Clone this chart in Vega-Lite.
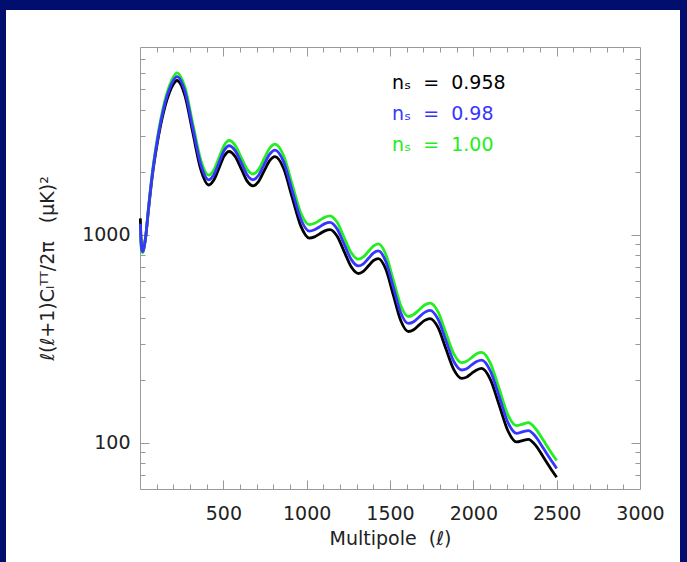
{
  "$schema": "https://vega.github.io/schema/vega-lite/v6.json",
  "width": 674,
  "height": 552,
  "autosize": {"type": "none"},
  "padding": {"left": 6, "top": 10, "right": 7, "bottom": 0},
  "background": "#020e6e",
  "config": {
    "view": {"fill": "white", "stroke": null},
    "font": "DejaVu Sans",
    "axis": {"grid": false, "labelFont": "DejaVu Sans", "titleFont": "DejaVu Sans"}
  },
  "data": {"values": [
    {"ell":2,"cl":1200,"ns":"0.958"},{"ell":4,"cl":1060,"ns":"0.958"},{"ell":7,"cl":930,"ns":"0.958"},{"ell":12,"cl":855,"ns":"0.958"},{"ell":18,"cl":840,"ns":"0.958"},{"ell":25,"cl":880,"ns":"0.958"},{"ell":35,"cl":990,"ns":"0.958"},{"ell":50,"cl":1300,"ns":"0.958"},{"ell":75,"cl":1950,"ns":"0.958"},{"ell":100,"cl":2650,"ns":"0.958"},{"ell":125,"cl":3400,"ns":"0.958"},{"ell":150,"cl":4150,"ns":"0.958"},{"ell":175,"cl":4800,"ns":"0.958"},{"ell":200,"cl":5300,"ns":"0.958"},{"ell":222,"cl":5520,"ns":"0.958"},{"ell":270,"cl":4660,"ns":"0.958"},{"ell":317,"cl":3095,"ns":"0.958"},{"ell":365,"cl":2057,"ns":"0.958"},{"ell":412,"cl":1736,"ns":"0.958"},{"ell":443,"cl":1833,"ns":"0.958"},{"ell":474,"cl":2090,"ns":"0.958"},{"ell":504,"cl":2383,"ns":"0.958"},{"ell":535,"cl":2516,"ns":"0.958"},{"ell":571,"cl":2379,"ns":"0.958"},{"ell":607,"cl":2081,"ns":"0.958"},{"ell":642,"cl":1818,"ns":"0.958"},{"ell":678,"cl":1720,"ns":"0.958"},{"ell":711,"cl":1803,"ns":"0.958"},{"ell":744,"cl":2023,"ns":"0.958"},{"ell":777,"cl":2267,"ns":"0.958"},{"ell":810,"cl":2378,"ns":"0.958"},{"ell":862,"cl":2084,"ns":"0.958"},{"ell":913,"cl":1515,"ns":"0.958"},{"ell":965,"cl":1101,"ns":"0.958"},{"ell":1016,"cl":965,"ns":"0.958"},{"ell":1047,"cl":978,"ns":"0.958"},{"ell":1078,"cl":1011,"ns":"0.958"},{"ell":1109,"cl":1045,"ns":"0.958"},{"ell":1140,"cl":1060,"ns":"0.958"},{"ell":1182,"cl":987,"ns":"0.958"},{"ell":1225,"cl":831,"ns":"0.958"},{"ell":1268,"cl":700,"ns":"0.958"},{"ell":1310,"cl":652,"ns":"0.958"},{"ell":1340,"cl":668,"ns":"0.958"},{"ell":1370,"cl":708,"ns":"0.958"},{"ell":1400,"cl":751,"ns":"0.958"},{"ell":1430,"cl":769,"ns":"0.958"},{"ell":1475,"cl":683,"ns":"0.958"},{"ell":1520,"cl":513,"ns":"0.958"},{"ell":1565,"cl":386,"ns":"0.958"},{"ell":1610,"cl":343,"ns":"0.958"},{"ell":1642,"cl":350,"ns":"0.958"},{"ell":1675,"cl":369,"ns":"0.958"},{"ell":1708,"cl":388,"ns":"0.958"},{"ell":1740,"cl":396,"ns":"0.958"},{"ell":1788,"cl":359,"ns":"0.958"},{"ell":1835,"cl":284,"ns":"0.958"},{"ell":1883,"cl":225,"ns":"0.958"},{"ell":1930,"cl":204,"ns":"0.958"},{"ell":1960,"cl":207,"ns":"0.958"},{"ell":1990,"cl":216,"ns":"0.958"},{"ell":2020,"cl":224,"ns":"0.958"},{"ell":2050,"cl":228,"ns":"0.958"},{"ell":2102,"cl":202,"ns":"0.958"},{"ell":2155,"cl":152,"ns":"0.958"},{"ell":2208,"cl":114,"ns":"0.958"},{"ell":2260,"cl":101,"ns":"0.958"},{"ell":2295,"cl":102.5,"ns":"0.958"},{"ell":2330,"cl":104,"ns":"0.958"},{"ell":2375,"cl":97,"ns":"0.958"},{"ell":2420,"cl":85.5,"ns":"0.958"},{"ell":2460,"cl":76.2,"ns":"0.958"},{"ell":2500,"cl":68.3,"ns":"0.958"},
    {"ell":2,"cl":1131,"ns":"0.98"},{"ell":4,"cl":1014,"ns":"0.98"},{"ell":7,"cl":901,"ns":"0.98"},{"ell":12,"cl":838,"ns":"0.98"},{"ell":18,"cl":831,"ns":"0.98"},{"ell":25,"cl":877,"ns":"0.98"},{"ell":35,"cl":993,"ns":"0.98"},{"ell":50,"cl":1315,"ns":"0.98"},{"ell":75,"cl":1990,"ns":"0.98"},{"ell":100,"cl":2721,"ns":"0.98"},{"ell":125,"cl":3509,"ns":"0.98"},{"ell":150,"cl":4300,"ns":"0.98"},{"ell":175,"cl":4990,"ns":"0.98"},{"ell":200,"cl":5525,"ns":"0.98"},{"ell":222,"cl":5768,"ns":"0.98"},{"ell":270,"cl":4892,"ns":"0.98"},{"ell":317,"cl":3260,"ns":"0.98"},{"ell":365,"cl":2173,"ns":"0.98"},{"ell":412,"cl":1839,"ns":"0.98"},{"ell":443,"cl":1945,"ns":"0.98"},{"ell":474,"cl":2221,"ns":"0.98"},{"ell":504,"cl":2536,"ns":"0.98"},{"ell":535,"cl":2681,"ns":"0.98"},{"ell":571,"cl":2539,"ns":"0.98"},{"ell":607,"cl":2223,"ns":"0.98"},{"ell":642,"cl":1945,"ns":"0.98"},{"ell":678,"cl":1842,"ns":"0.98"},{"ell":711,"cl":1933,"ns":"0.98"},{"ell":744,"cl":2171,"ns":"0.98"},{"ell":777,"cl":2436,"ns":"0.98"},{"ell":810,"cl":2557,"ns":"0.98"},{"ell":862,"cl":2244,"ns":"0.98"},{"ell":913,"cl":1633,"ns":"0.98"},{"ell":965,"cl":1189,"ns":"0.98"},{"ell":1016,"cl":1043,"ns":"0.98"},{"ell":1047,"cl":1058,"ns":"0.98"},{"ell":1078,"cl":1094,"ns":"0.98"},{"ell":1109,"cl":1132,"ns":"0.98"},{"ell":1140,"cl":1148,"ns":"0.98"},{"ell":1182,"cl":1070,"ns":"0.98"},{"ell":1225,"cl":902,"ns":"0.98"},{"ell":1268,"cl":760,"ns":"0.98"},{"ell":1310,"cl":709,"ns":"0.98"},{"ell":1340,"cl":726,"ns":"0.98"},{"ell":1370,"cl":770,"ns":"0.98"},{"ell":1400,"cl":817,"ns":"0.98"},{"ell":1430,"cl":837,"ns":"0.98"},{"ell":1475,"cl":745,"ns":"0.98"},{"ell":1520,"cl":560,"ns":"0.98"},{"ell":1565,"cl":421,"ns":"0.98"},{"ell":1610,"cl":375,"ns":"0.98"},{"ell":1642,"cl":382,"ns":"0.98"},{"ell":1675,"cl":403,"ns":"0.98"},{"ell":1708,"cl":424,"ns":"0.98"},{"ell":1740,"cl":433,"ns":"0.98"},{"ell":1788,"cl":393,"ns":"0.98"},{"ell":1835,"cl":311,"ns":"0.98"},{"ell":1883,"cl":246,"ns":"0.98"},{"ell":1930,"cl":224,"ns":"0.98"},{"ell":1960,"cl":227,"ns":"0.98"},{"ell":1990,"cl":237,"ns":"0.98"},{"ell":2020,"cl":246,"ns":"0.98"},{"ell":2050,"cl":250,"ns":"0.98"},{"ell":2102,"cl":222,"ns":"0.98"},{"ell":2155,"cl":167,"ns":"0.98"},{"ell":2208,"cl":125,"ns":"0.98"},{"ell":2260,"cl":111,"ns":"0.98"},{"ell":2295,"cl":113,"ns":"0.98"},{"ell":2330,"cl":114.5,"ns":"0.98"},{"ell":2375,"cl":106.9,"ns":"0.98"},{"ell":2420,"cl":94.2,"ns":"0.98"},{"ell":2460,"cl":84.0,"ns":"0.98"},{"ell":2500,"cl":75.3,"ns":"0.98"},
    {"ell":2,"cl":1071,"ns":"1.00"},{"ell":4,"cl":974,"ns":"1.00"},{"ell":7,"cl":875,"ns":"1.00"},{"ell":12,"cl":823,"ns":"1.00"},{"ell":18,"cl":822,"ns":"1.00"},{"ell":25,"cl":873,"ns":"1.00"},{"ell":35,"cl":996,"ns":"1.00"},{"ell":50,"cl":1328,"ns":"1.00"},{"ell":75,"cl":2026,"ns":"1.00"},{"ell":100,"cl":2787,"ns":"1.00"},{"ell":125,"cl":3610,"ns":"1.00"},{"ell":150,"cl":4440,"ns":"1.00"},{"ell":175,"cl":5169,"ns":"1.00"},{"ell":200,"cl":5741,"ns":"1.00"},{"ell":222,"cl":6005,"ns":"1.00"},{"ell":270,"cl":5111,"ns":"1.00"},{"ell":317,"cl":3418,"ns":"1.00"},{"ell":365,"cl":2284,"ns":"1.00"},{"ell":412,"cl":1938,"ns":"1.00"},{"ell":443,"cl":2052,"ns":"1.00"},{"ell":474,"cl":2346,"ns":"1.00"},{"ell":504,"cl":2683,"ns":"1.00"},{"ell":535,"cl":2841,"ns":"1.00"},{"ell":571,"cl":2693,"ns":"1.00"},{"ell":607,"cl":2360,"ns":"1.00"},{"ell":642,"cl":2069,"ns":"1.00"},{"ell":678,"cl":1961,"ns":"1.00"},{"ell":711,"cl":2060,"ns":"1.00"},{"ell":744,"cl":2315,"ns":"1.00"},{"ell":777,"cl":2600,"ns":"1.00"},{"ell":810,"cl":2731,"ns":"1.00"},{"ell":862,"cl":2400,"ns":"1.00"},{"ell":913,"cl":1748,"ns":"1.00"},{"ell":965,"cl":1274,"ns":"1.00"},{"ell":1016,"cl":1119,"ns":"1.00"},{"ell":1047,"cl":1136,"ns":"1.00"},{"ell":1078,"cl":1175,"ns":"1.00"},{"ell":1109,"cl":1216,"ns":"1.00"},{"ell":1140,"cl":1235,"ns":"1.00"},{"ell":1182,"cl":1152,"ns":"1.00"},{"ell":1225,"cl":971,"ns":"1.00"},{"ell":1268,"cl":819,"ns":"1.00"},{"ell":1310,"cl":764,"ns":"1.00"},{"ell":1340,"cl":783,"ns":"1.00"},{"ell":1370,"cl":831,"ns":"1.00"},{"ell":1400,"cl":882,"ns":"1.00"},{"ell":1430,"cl":904,"ns":"1.00"},{"ell":1475,"cl":805,"ns":"1.00"},{"ell":1520,"cl":606,"ns":"1.00"},{"ell":1565,"cl":456,"ns":"1.00"},{"ell":1610,"cl":405,"ns":"1.00"},{"ell":1642,"cl":414,"ns":"1.00"},{"ell":1675,"cl":436,"ns":"1.00"},{"ell":1708,"cl":460,"ns":"1.00"},{"ell":1740,"cl":470,"ns":"1.00"},{"ell":1788,"cl":427,"ns":"1.00"},{"ell":1835,"cl":338,"ns":"1.00"},{"ell":1883,"cl":268,"ns":"1.00"},{"ell":1930,"cl":243,"ns":"1.00"},{"ell":1960,"cl":247,"ns":"1.00"},{"ell":1990,"cl":257,"ns":"1.00"},{"ell":2020,"cl":268,"ns":"1.00"},{"ell":2050,"cl":272,"ns":"1.00"},{"ell":2102,"cl":242,"ns":"1.00"},{"ell":2155,"cl":182,"ns":"1.00"},{"ell":2208,"cl":136,"ns":"1.00"},{"ell":2260,"cl":121,"ns":"1.00"},{"ell":2295,"cl":123,"ns":"1.00"},{"ell":2330,"cl":125,"ns":"1.00"},{"ell":2375,"cl":116.6,"ns":"1.00"},{"ell":2420,"cl":102.8,"ns":"1.00"},{"ell":2460,"cl":91.7,"ns":"1.00"},{"ell":2500,"cl":82.3,"ns":"1.00"}
  ]},
  "encoding": {
    "color": {
      "field": "ns", "type": "nominal",
      "scale": {"domain": ["0.958", "0.98", "1.00"], "range": ["#000000", "#3636ff", "#22ee22"]},
      "legend": {
        "orient": "none", "legendX": 367, "legendY": 63, "title": null,
        "symbolOpacity": 0, "symbolSize": 0, "symbolStrokeWidth": 0, "labelOffset": 0,
        "labelFontSize": 19, "labelFont": "DejaVu Sans", "labelExpr": "'nₛ\u00a0\u00a0=\u00a0\u00a0' + datum.label",
        "rowPadding": 11, "clipHeight": 19, "padding": 0,
        "encode": {"labels": {"update": {"fill": {"scale": "color", "field": "value"}}}}
      }
    }
  },
  "layer": [
    {
      "transform": [{"filter": "datum.ns === '0.958'"}],
      "mark": {"type": "line", "strokeWidth": 2.8, "interpolate": "monotone"},
      "encoding": {
        "x": {"field": "ell", "type": "quantitative",
          "scale": {"domain": [0, 3000], "range": [134, 634], "nice": false, "zero": false},
          "axis": {"orient": "bottom", "offset": -73, "values": [500, 1000, 1500, 2000, 2500, 3000], "format": "d",
            "ticks": false, "domain": true, "domainColor": "#999999", "domainWidth": 1,
            "labelFontSize": 19, "labelColor": "#222222", "labelPadding": 15, "labelOverlap": false, "labelFlush": false,
            "title": "Multipole\u00a0\u00a0(ℓ)", "titleFontSize": 19, "titleFontWeight": "normal", "titleColor": "#222222", "titlePadding": 6}},
        "y": {"field": "cl", "type": "quantitative",
          "scale": {"type": "log", "domain": [60, 8000], "range": [479, 37], "nice": false},
          "axis": {"orient": "left", "offset": -134, "values": [100, 1000], "format": "d",
            "ticks": false, "domain": true, "domainColor": "#999999", "domainWidth": 1,
            "labelFontSize": 19, "labelColor": "#222222", "labelPadding": 10, "labelOverlap": false, "labelFlush": false,
            "title": "ℓ(ℓ+1)Cₗᵀᵀ/2π\u00a0\u00a0\u00a0(μK)²", "titleFontSize": 19, "titleFontWeight": "normal", "titleColor": "#222222", "titlePadding": 24}}
      }
    },
    {
      "transform": [{"filter": "datum.ns === '1.00'"}],
      "mark": {"type": "line", "strokeWidth": 2.8, "interpolate": "monotone"},
      "encoding": {
        "x": {"field": "ell", "type": "quantitative",
          "scale": {"domain": [0, 3000], "range": [134, 634], "nice": false, "zero": false},
          "axis": {"orient": "top", "offset": -479,
            "values": [100,200,300,400,500,600,700,800,900,1000,1100,1200,1300,1400,1500,1600,1700,1800,1900,2000,2100,2200,2300,2400,2500,2600,2700,2800,2900],
            "labels": false, "domain": false, "ticks": true, "tickColor": "#999999", "tickWidth": 1,
            "tickSize": {"condition": {"test": "datum.value % 500 === 0", "value": 9}, "value": 5}, "title": null}},
        "y": {"field": "cl", "type": "quantitative",
          "scale": {"type": "log", "domain": [60, 8000], "range": [479, 37], "nice": false},
          "axis": {"orient": "right", "offset": -540,
            "values": [70,80,90,100,200,300,400,500,600,700,800,900,1000,2000,3000,4000,5000,6000,7000],
            "labels": false, "domain": false, "ticks": true, "tickColor": "#999999", "tickWidth": 1,
            "tickSize": {"condition": {"test": "datum.value === 100 || datum.value === 1000", "value": 9}, "value": 5}, "title": null}}
      }
    },
    {
      "transform": [{"filter": "datum.ns === '0.98'"}],
      "mark": {"type": "line", "strokeWidth": 2.8, "interpolate": "monotone"},
      "encoding": {
        "x": {"field": "ell", "type": "quantitative",
          "scale": {"domain": [0, 3000], "range": [134, 634], "nice": false, "zero": false},
          "axis": {"orient": "bottom", "offset": -515,
            "values": [100,200,300,400,500,600,700,800,900,1000,1100,1200,1300,1400,1500,1600,1700,1800,1900,2000,2100,2200,2300,2400,2500,2600,2700,2800,2900],
            "labels": false, "domain": true, "domainColor": "#999999", "domainWidth": 1, "ticks": true, "tickColor": "#999999", "tickWidth": 1,
            "tickSize": {"condition": {"test": "datum.value % 500 === 0", "value": 9}, "value": 5}, "title": null}},
        "y": {"field": "cl", "type": "quantitative",
          "scale": {"type": "log", "domain": [60, 8000], "range": [479, 37], "nice": false},
          "axis": {"orient": "left", "offset": -634,
            "values": [70,80,90,100,200,300,400,500,600,700,800,900,1000,2000,3000,4000,5000,6000,7000],
            "labels": false, "domain": true, "domainColor": "#999999", "domainWidth": 1, "ticks": true, "tickColor": "#999999", "tickWidth": 1,
            "tickSize": {"condition": {"test": "datum.value === 100 || datum.value === 1000", "value": 9}, "value": 5}, "title": null}}
      }
    }
  ],
  "resolve": {"axis": {"x": "independent", "y": "independent"}}
}
